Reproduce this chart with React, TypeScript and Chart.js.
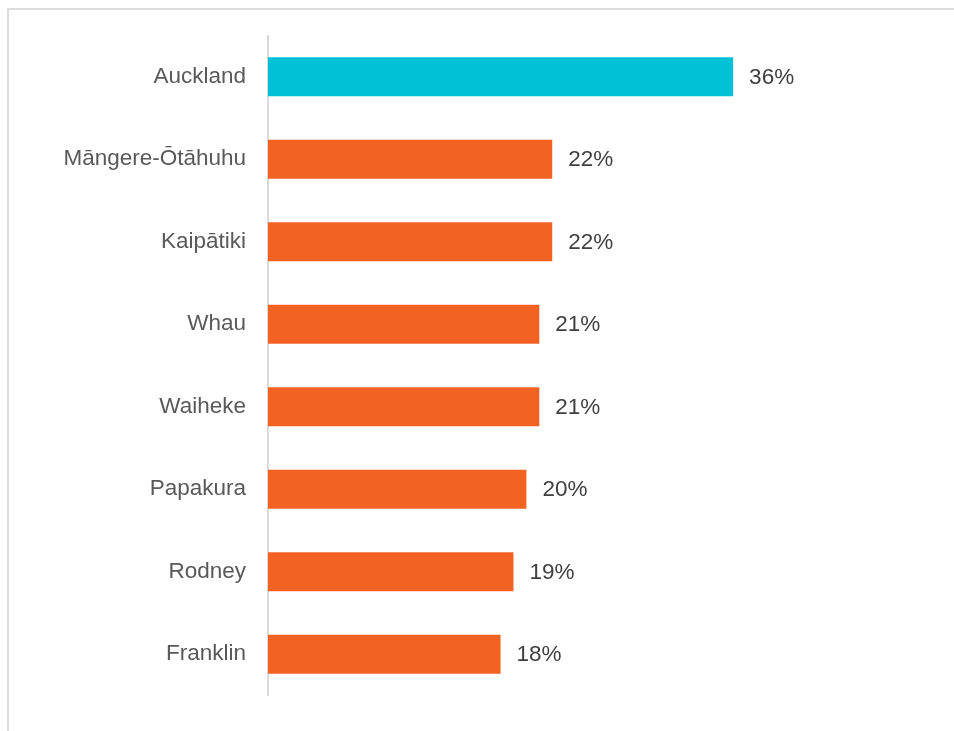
import React, { useEffect, useRef } from "react";
import { Chart, registerables } from "chart.js";

Chart.register(...registerables);

const categories = ["Auckland", "Māngere-Ōtāhuhu", "Kaipātiki", "Whau", "Waiheke", "Papakura", "Rodney", "Franklin"];
const values = [36, 22, 22, 21, 21, 20, 19, 18];
const barColors = ["#00C1D5", "#F26222", "#F26222", "#F26222", "#F26222", "#F26222", "#F26222", "#F26222"];

const FONT = "'Liberation Sans', Arial, sans-serif";

const valueLabels = {
  id: "valueLabels",
  afterDatasetsDraw(chart: any) {
    const { ctx } = chart;
    const meta = chart.getDatasetMeta(0);
    ctx.save();
    ctx.font = `22.5px ${FONT}`;
    ctx.fillStyle = "#404040";
    ctx.textAlign = "left";
    ctx.textBaseline = "middle";
    meta.data.forEach((bar: any, i: number) => {
      ctx.fillText(`${values[i]}%`, bar.x + 16, bar.y + 1);
    });
    ctx.restore();
  },
};

export default function App() {
  const ref = useRef<HTMLCanvasElement | null>(null);
  useEffect(() => {
    if (!ref.current) return;
    const chart = new Chart(ref.current, {
      type: "bar",
      data: {
        labels: categories,
        datasets: [
          {
            data: values,
            backgroundColor: barColors,
            barPercentage: 0.47,
            categoryPercentage: 1,
          },
        ],
      },
      options: {
        indexAxis: "y",
        animation: false,
        responsive: true,
        maintainAspectRatio: false,
        layout: { padding: { left: 0, right: 40, top: 29.3, bottom: 34.9 } },
        plugins: { legend: { display: false }, tooltip: { enabled: false } },
        scales: {
          x: { display: false, min: 0, max: 50 },
          y: {
            afterFit(scale: any) {
              scale.width = 268;
            },
            grid: { display: false, drawTicks: false },
            border: { display: true, color: "#D9D9D9", width: 2 },
            ticks: {
              padding: 22,
              color: "#595959",
              font: { family: FONT, size: 22.5 },
            },
          },
        },
      },
      plugins: [valueLabels],
    });
    return () => chart.destroy();
  }, []);

  return (
    <>
      <div
        style={{
          position: "fixed",
          left: 7,
          top: 8,
          width: 980,
          height: 760,
          borderTop: "2px solid #DDDDDD",
          borderLeft: "2px solid #DDDDDD",
          boxSizing: "border-box",
        }}
      />
      <div style={{ position: "fixed", left: 0, top: 0, width: 954, height: 731 }}>
        <canvas ref={ref} />
      </div>
    </>
  );
}
